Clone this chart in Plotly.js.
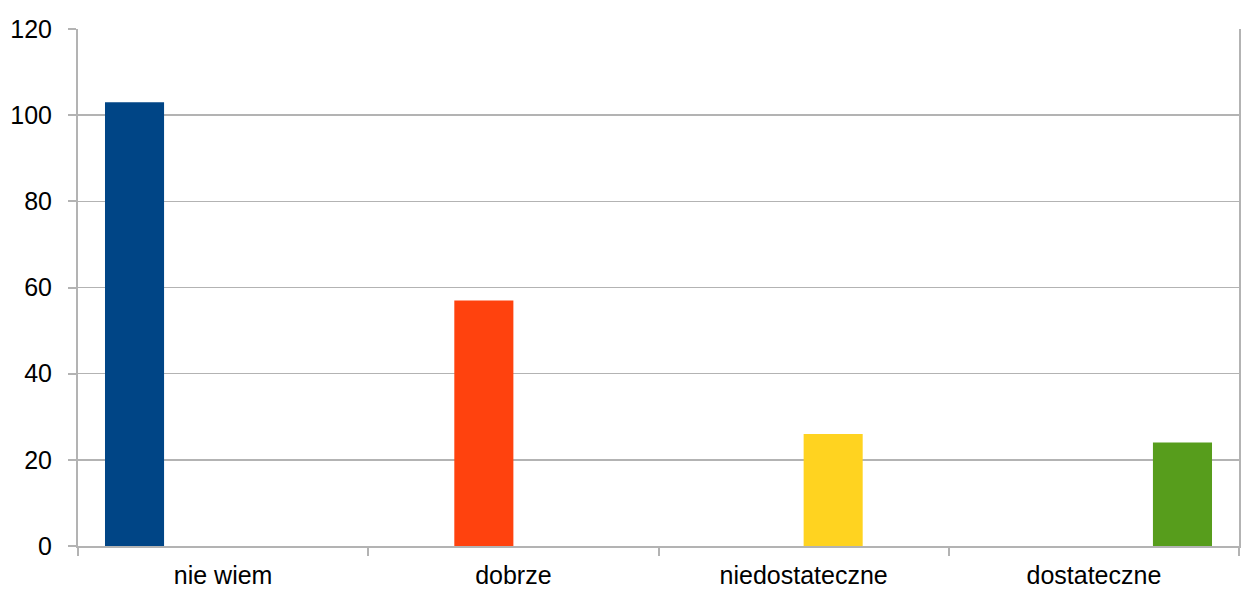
<!DOCTYPE html>
<html>
<head>
<meta charset="utf-8">
<script src="https://cdn.plot.ly/plotly-3.0.1.min.js"></script>
<style>html,body{margin:0;padding:0;background:#fff;}#chart{width:1241px;height:590px;}</style>
</head>
<body>
<div id="chart"></div>
<script>
const categories = ["nie wiem", "dobrze", "niedostateczne", "dostateczne"];
const seriesNames = ["nie wiem", "dobrze", "niedostateczne", "dostateczne"];
const seriesValues = [
  [103, 0, 0, 0],
  [0, 57, 0, 0],
  [0, 0, 26, 0],
  [0, 0, 0, 24]
];
const seriesColors = ["#004586", "#ff420e", "#ffd320", "#579d1c"];

const traces = seriesNames.map((name, i) => ({
  type: "bar",
  name: name,
  x: categories,
  y: seriesValues[i],
  marker: {color: seriesColors[i], line: {width: 0}},
  hoverinfo: "x+y"
}));

const axisColor = "#b3b3b3";
const layout = {
  width: 1241,
  height: 590,
  margin: {l: 78, r: 2, t: 29, b: 44, pad: 0},
  paper_bgcolor: "#ffffff",
  plot_bgcolor: "#ffffff",
  showlegend: false,
  barmode: "group",
  bargap: 0.186,
  bargroupgap: 0,
  font: {family: "Liberation Sans, Arial, sans-serif", size: 25, color: "#000000"},
  xaxis: {
    type: "category",
    showline: true,
    linecolor: axisColor,
    linewidth: 2,
    ticks: "outside",
    tickson: "boundaries",
    ticklen: 8,
    tickwidth: 2,
    tickcolor: axisColor,
    showgrid: false,
    zeroline: false,
    tickfont: {size: 25, color: "#000000"},
    ticklabelstandoff: 6
  },
  yaxis: {
    range: [0, 120],
    dtick: 20,
    showline: true,
    mirror: true,
    linecolor: axisColor,
    linewidth: 2,
    ticks: "outside",
    ticklen: 8,
    tickwidth: 2,
    tickcolor: axisColor,
    showgrid: true,
    gridcolor: axisColor,
    gridwidth: 1.5,
    zeroline: false,
    tickfont: {size: 25, color: "#000000"},
    ticklabelstandoff: 11
  }
};

Plotly.newPlot("chart", traces, layout, {displayModeBar: false, staticPlot: true});
</script>
</body>
</html>
